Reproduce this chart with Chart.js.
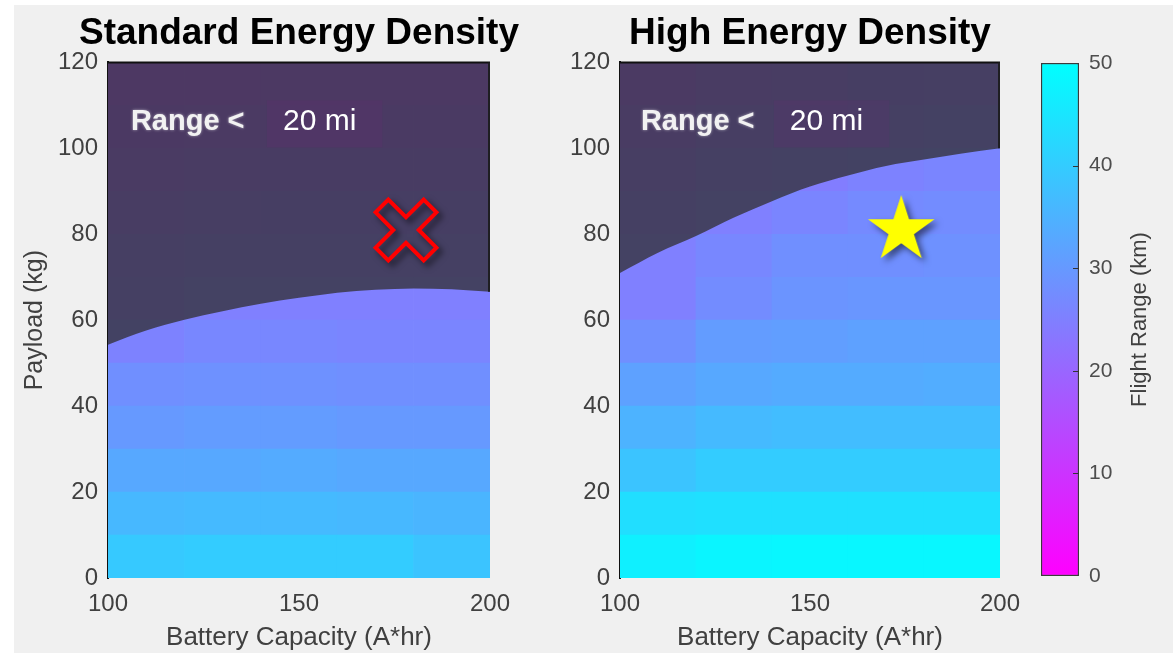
<!DOCTYPE html>
<html>
<head>
<meta charset="utf-8">
<script src="https://cdn.jsdelivr.net/npm/chart.js@4.4.1/dist/chart.umd.min.js"></script>
<style>
  html, body { margin: 0; padding: 0; background: #ffffff; width: 1173px; height: 653px; overflow: hidden; position: relative; }
  #bg { position: absolute; left: 14px; top: 5px; right: 0; bottom: 0; background: #f0f0f0; }
  canvas { position: absolute; top: 0; }
  #standard { left: 0; }
  #high { left: 540px; }
  #scale { left: 1000px; }
</style>
</head>
<body>
<div id="bg"></div>
<canvas id="standard" width="598" height="653"></canvas>
<canvas id="high" width="540" height="653"></canvas>
<canvas id="scale" width="173" height="653"></canvas>
<script>
// Battery capacity bins (A*hr) and payload rows (kg, lower edge of each 10 kg row)
const capacityBins = ['100-120', '120-140', '140-160', '160-180', '180-200'];
const payloadRows = [0, 10, 20, 30, 40, 50, 60, 70, 80, 90, 100, 110];
const xTicks = [100, 150, 200];
const rangeTicks = [0, 10, 20, 30, 40, 50];

// Flight range (km) per cell, one row per payload band, bottom to top
const standardRange = [
  [39.5, 40.0, 40.0, 40.0, 38.5],
  [36.0, 36.5, 36.5, 36.0, 35.5],
  [33.0, 33.0, 33.5, 33.0, 33.0],
  [30.0, 30.5, 30.5, 30.0, 30.0],
  [28.0, 28.5, 28.5, 28.0, 28.0],
  [25.5, 26.5, 26.5, 26.0, 26.0],
  [24.0, 25.0, 25.0, 25.0, 25.0],
  [23.0, 23.5, 24.0, 24.0, 24.0],
  [21.5, 22.0, 22.5, 22.5, 22.5],
  [20.0, 20.5, 21.0, 21.0, 21.0],
  [18.5, 19.0, 19.5, 19.5, 19.5],
  [17.0, 17.5, 18.0, 18.0, 18.0]
];
const highRange = [
  [47.0, 48.0, 48.5, 48.5, 48.5],
  [43.5, 44.0, 44.0, 44.0, 44.0],
  [38.5, 40.0, 40.0, 40.0, 40.0],
  [35.0, 36.5, 37.0, 37.0, 37.0],
  [31.5, 33.0, 33.5, 33.5, 34.0],
  [28.0, 30.5, 31.0, 31.5, 31.5],
  [25.0, 27.5, 29.0, 29.5, 29.5],
  [25.0, 26.5, 28.0, 28.0, 28.5],
  [23.5, 25.0, 26.0, 27.0, 27.5],
  [22.0, 23.5, 24.5, 25.5, 26.0],
  [20.5, 22.0, 23.0, 24.0, 24.5],
  [19.0, 20.5, 21.5, 22.5, 23.0]
];

// Payload limit above which the range falls under 20 mi
const limitCapacity = [100, 110, 120, 130, 140, 150, 160, 170, 180, 190, 200];
const standardLimit = [54.3, 57.6, 60.1, 62.1, 63.8, 65.2, 66.4, 67.1, 67.4, 67.2, 66.6];
const highLimit = [71.0, 75.7, 79.6, 83.9, 87.7, 91.1, 93.7, 95.9, 97.4, 98.8, 100.0];

// Design points: rejected (standard cells) and selected (high energy cells)
const standardPoint = [{ x: 178, y: 81 }];
const highPoint = [{ x: 174, y: 81 }];

Chart.defaults.font.family = '"Liberation Sans", Arial, Helvetica, sans-serif';

// MATLAB "cool" colormap over 0..50 km
function cool(v) {
  const t = Math.max(0, Math.min(1, v / 50));
  return `rgb(${Math.round(255 * (1 - t))},${Math.round(255 * t)},255)`;
}

function crossMarker() {
  const c = document.createElement('canvas');
  c.width = c.height = 100;
  const g = c.getContext('2d');
  g.translate(50, 50);
  g.rotate(Math.PI / 4);
  const L = 34, w = 9;
  g.beginPath();
  g.moveTo(-w, -L); g.lineTo(w, -L); g.lineTo(w, -w); g.lineTo(L, -w);
  g.lineTo(L, w); g.lineTo(w, w); g.lineTo(w, L); g.lineTo(-w, L);
  g.lineTo(-w, w); g.lineTo(-L, w); g.lineTo(-L, -w); g.lineTo(-w, -w);
  g.closePath();
  g.shadowColor = 'rgba(0,0,0,0.55)';
  g.shadowBlur = 6;
  g.shadowOffsetX = 4;
  g.shadowOffsetY = 4;
  g.strokeStyle = '#ff0000';
  g.lineWidth = 4;
  g.lineJoin = 'miter';
  g.stroke();
  return c;
}

function starMarker() {
  const c = document.createElement('canvas');
  c.width = c.height = 100;
  const g = c.getContext('2d');
  const R = 35, r = R * 0.382;
  g.beginPath();
  for (let k = 0; k < 10; k++) {
    const a = -Math.PI / 2 + k * Math.PI / 5;
    const rad = k % 2 ? r : R;
    const px = 50 + rad * Math.cos(a), py = 50 + rad * Math.sin(a);
    k ? g.lineTo(px, py) : g.moveTo(px, py);
  }
  g.closePath();
  g.shadowColor = 'rgba(0,0,0,0.5)';
  g.shadowBlur = 6;
  g.shadowOffsetX = 4;
  g.shadowOffsetY = 4;
  g.fillStyle = '#ffff00';
  g.fill();
  return c;
}

// Frame edges and the "Range < 20 mi" note inside each panel
const panelNotes = {
  id: 'panelNotes',
  afterDatasetsDraw(chart, args, opts) {
    const { ctx, chartArea: a, scales } = chart;
    const xs = scales.x, ys = scales.y;
    ctx.save();
    ctx.strokeStyle = '#111111';
    ctx.lineWidth = 2;
    ctx.beginPath();
    ctx.moveTo(a.left, a.top);
    ctx.lineTo(a.right, a.top);
    ctx.stroke();
    ctx.strokeStyle = '#1e1e22';
    ctx.beginPath();
    ctx.moveTo(a.right - 1, a.top);
    ctx.lineTo(a.right - 1, ys.getPixelForValue(opts.edge));
    ctx.stroke();

    const baseY = ys.getPixelForValue(104.2);
    ctx.font = '30px "Liberation Sans", Arial, sans-serif';
    const mx = xs.getPixelForValue(opts.valueAt);
    const mw = ctx.measureText('20 mi').width;
    ctx.fillStyle = 'rgba(110,40,120,0.16)';
    ctx.fillRect(mx - 16, baseY - 30, mw + 42, 47);
    ctx.fillStyle = '#ffffff';
    ctx.textBaseline = 'alphabetic';
    ctx.fillText('20 mi', mx, baseY);

    ctx.font = 'bold 29px "Liberation Sans", Arial, sans-serif';
    ctx.shadowColor = 'rgba(255,255,255,0.55)';
    ctx.shadowBlur = 3;
    ctx.fillStyle = '#f2f2f2';
    ctx.fillText('Range <', xs.getPixelForValue(opts.labelAt), baseY);
    ctx.restore();
  }
};

function makePanel(id, cfg) {
  const cellSets = cfg.ranges.map((row, r) => ({
    type: 'bar',
    xAxisID: 'xc',
    yAxisID: 'y',
    data: row.map(() => [payloadRows[r], payloadRows[r] + 10]),
    backgroundColor: row.map(cool),
    borderWidth: 0,
    borderSkipped: false,
    barPercentage: 1,
    categoryPercentage: 1,
    grouped: false,
    order: 3
  }));
  const overlay = {
    type: 'line',
    xAxisID: 'x',
    yAxisID: 'y',
    data: limitCapacity.map((x, i) => ({ x, y: cfg.limit[i] })),
    borderColor: 'rgba(0,0,0,0)',
    borderWidth: 0,
    pointRadius: 0,
    fill: 'end',
    backgroundColor: 'rgba(48,46,50,0.76)',
    cubicInterpolationMode: 'monotone',
    order: 2
  };
  const marker = {
    type: 'line',
    xAxisID: 'x',
    yAxisID: 'y',
    data: cfg.point,
    showLine: false,
    pointStyle: cfg.marker,
    pointRadius: 10,
    order: 1
  };
  return new Chart(document.getElementById(id), {
    type: 'bar',
    data: { labels: capacityBins, datasets: [...cellSets, overlay, marker] },
    options: {
      responsive: false,
      devicePixelRatio: 1,
      animation: false,
      events: [],
      layout: { padding: 0 },
      plugins: {
        legend: { display: false },
        tooltip: { enabled: false },
        title: {
          display: true,
          text: cfg.title,
          color: '#000000',
          font: { size: 37, weight: 'bold' },
          padding: { top: 12, bottom: 6 }
        },
        panelNotes: { edge: cfg.limit[cfg.limit.length - 1], labelAt: cfg.labelAt, valueAt: cfg.valueAt }
      },
      scales: {
        xc: { type: 'category', labels: capacityBins, display: false, offset: true },
        x: {
          type: 'linear',
          position: 'bottom',
          min: 100,
          max: 200,
          offset: false,
          afterBuildTicks(s) { s.ticks = xTicks.map(v => ({ value: v })); },
          ticks: { color: '#404040', font: { size: 24 }, padding: 12 },
          grid: { display: false, drawTicks: false },
          border: { display: false },
          title: {
            display: true,
            text: 'Battery Capacity (A*hr)',
            color: '#404040',
            font: { size: 26 },
            padding: { top: 0, bottom: 0 }
          },
          afterFit(s) { s.height = 75; }
        },
        y: {
          type: 'linear',
          min: 0,
          max: 120,
          ticks: { stepSize: 20, color: '#404040', font: { size: 24 }, padding: 10 },
          grid: { display: false, drawTicks: false },
          border: { display: true, color: '#111111', width: 2 },
          title: {
            display: cfg.yTitle,
            text: 'Payload (kg)',
            color: '#404040',
            font: { size: 25 },
            padding: { top: 20, bottom: 0 }
          },
          afterFit(s) { s.width = cfg.yWidth; }
        },
        // empty right-hand margin so the heading centres over the plot
        margin: {
          type: 'linear',
          position: 'right',
          display: true,
          ticks: { display: false },
          grid: { display: false, drawTicks: false },
          border: { display: false },
          afterFit(s) { s.width = cfg.yWidth; }
        }
      }
    },
    plugins: [panelNotes]
  });
}

makePanel('standard', {
  title: 'Standard Energy Density',
  ranges: standardRange,
  limit: standardLimit,
  point: standardPoint,
  marker: crossMarker(),
  yTitle: true,
  yWidth: 108,
  labelAt: 106,
  valueAt: 145.8
});

makePanel('high', {
  title: 'High Energy Density',
  ranges: highRange,
  limit: highLimit,
  point: highPoint,
  marker: starMarker(),
  yTitle: false,
  yWidth: 80,
  labelAt: 105.5,
  valueAt: 144.7
});

// Colour scale bar with its ticks and label
const scaleDecor = {
  id: 'scaleDecor',
  afterDraw(chart) {
    const { ctx, chartArea: a, scales } = chart;
    ctx.save();
    ctx.strokeStyle = '#333333';
    ctx.lineWidth = 1;
    rangeTicks.slice(1, -1).forEach(v => {
      const y = Math.round(scales.y.getPixelForValue(v)) + 0.5;
      ctx.beginPath();
      ctx.moveTo(a.right - 6, y);
      ctx.lineTo(a.right, y);
      ctx.stroke();
    });
    ctx.translate(140, (a.top + a.bottom) / 2);
    ctx.rotate(-Math.PI / 2);
    ctx.fillStyle = '#404040';
    ctx.font = '22px "Liberation Sans", Arial, sans-serif';
    ctx.textAlign = 'center';
    ctx.textBaseline = 'middle';
    ctx.fillText('Flight Range (km)', 0, 0);
    ctx.restore();
  }
};

new Chart(document.getElementById('scale'), {
  type: 'bar',
  data: {
    labels: [''],
    datasets: [{
      data: [[rangeTicks[0], rangeTicks[rangeTicks.length - 1]]],
      backgroundColor(c) {
        const a = c.chart.chartArea;
        if (!a) return cool(25);
        const g = c.chart.ctx.createLinearGradient(0, a.bottom, 0, a.top);
        rangeTicks.forEach(v => g.addColorStop(v / 50, cool(v)));
        return g;
      },
      borderColor: '#3a3a3a',
      borderWidth: 1.5,
      borderSkipped: false,
      barPercentage: 1,
      categoryPercentage: 1
    }]
  },
  options: {
    responsive: false,
    devicePixelRatio: 1,
    animation: false,
    events: [],
    layout: { padding: { left: 41, right: 0, top: 63, bottom: 77 } },
    plugins: { legend: { display: false }, tooltip: { enabled: false } },
    scales: {
      x: { type: 'category', display: false, offset: true },
      y: {
        type: 'linear',
        position: 'right',
        min: 0,
        max: 50,
        afterBuildTicks(s) { s.ticks = rangeTicks.map(v => ({ value: v })); },
        ticks: { color: '#4d4d4d', font: { size: 21 }, padding: 10 },
        grid: { display: false, drawTicks: false },
        border: { display: false },
        afterFit(s) { s.width = 94; }
      }
    }
  },
  plugins: [scaleDecor]
});
</script>
</body>
</html>
